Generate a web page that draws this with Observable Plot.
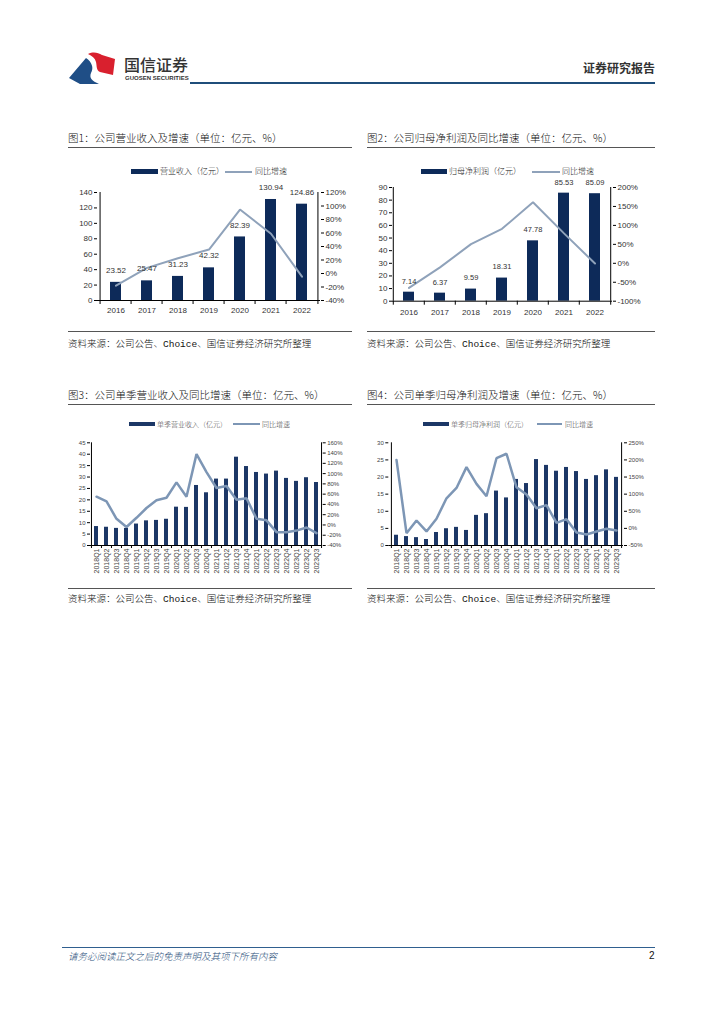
<!DOCTYPE html>
<html><head><meta charset="utf-8">
<script src="https://cdn.jsdelivr.net/npm/d3@7"></script>
<script src="https://cdn.jsdelivr.net/npm/@observablehq/plot@0.6"></script>
<style>
body{margin:0;background:#fff;}
#page{position:relative;width:724px;height:1024px;background:#fff;font-family:"Liberation Sans","Noto Sans CJK SC",sans-serif;color:#222;overflow:hidden;}
.a{position:absolute;white-space:nowrap;}
.title{font-size:10.5px;line-height:14px;color:#111;font-weight:300;font-family:"Noto Sans CJK SC","Liberation Sans",sans-serif;}
.src{font-size:9.5px;line-height:12px;color:#111;font-weight:300;font-family:"Noto Sans CJK SC",sans-serif;}
.mono{font-family:"Liberation Mono",monospace;font-weight:400;}
.rule{height:1px;background:#555;}
.lg{font-size:8px;line-height:10px;font-weight:300;font-family:"Noto Sans CJK SC",sans-serif;color:#222;}
.lg2{font-size:7px;line-height:9px;font-weight:300;font-family:"Noto Sans CJK SC",sans-serif;color:#444;}
.chart{position:absolute;}
</style></head>
<body>
<div id="page">
  <svg class="a" style="left:68px;top:50px" width="50" height="36" viewBox="0 0 50 36">
    <path d="M1,28 L18,8 C24,12 26,18 23,23 C21,28 24,31 31,34 L12,34 Z" fill="#1f4e86"/>
    <path d="M20,4 C26,1 30,3 34,5 L47,9 L45,25 L32,22 C28,20 29,16 28,12 C27,8 24,6 20,4 Z" fill="#d9202e"/>
  </svg>
  <div class="a" style="left:124px;top:54px;font-size:16px;line-height:20px;font-family:'Noto Sans CJK SC';font-weight:500;color:#333">国信证券</div>
  <div class="a" style="left:125px;top:75px;font-size:6px;line-height:7px;font-weight:bold;color:#333">GUOSEN SECURITIES</div>
  <div class="a" style="right:69px;top:60px;font-size:12px;line-height:16px;font-family:'Noto Sans CJK SC';font-weight:bold;color:#333">证券研究报告</div>
  <div class="a" style="left:190px;top:82px;width:465px;height:2px;background:#1f4e7a"></div>

  <!-- chart 1 -->
  <div class="a title" style="left:68px;top:131px">图1：公司营业收入及增速（单位：亿元、%）</div>
  <div class="a rule" style="left:68px;top:147px;width:284px"></div>
  <div class="a" style="left:131px;top:169px;width:27px;height:5px;background:#0d2a59"></div>
  <div class="a lg" style="left:160px;top:166px">营业收入（亿元）</div>
  <div class="a" style="left:225px;top:170.5px;width:27px;height:2px;background:#8fa2ba"></div>
  <div class="a lg" style="left:255px;top:166px">同比增速</div>
  <div id="c1" class="chart" style="left:60px;top:182px"></div>
  <div class="a rule" style="left:68px;top:331px;width:284px"></div>
  <div class="a src" style="left:68px;top:337px">资料来源：公司公告、<span class="mono">Choice</span>、国信证券经济研究所整理</div>

  <!-- chart 2 -->
  <div class="a title" style="left:367px;top:131px">图2：公司归母净利润及同比增速（单位：亿元、%）</div>
  <div class="a rule" style="left:367px;top:147px;width:288px"></div>
  <div class="a" style="left:421px;top:169px;width:26px;height:5px;background:#0d2a59"></div>
  <div class="a lg" style="left:449px;top:166px">归母净利润（亿元）</div>
  <div class="a" style="left:532px;top:170.5px;width:28px;height:2px;background:#8fa2ba"></div>
  <div class="a lg" style="left:562px;top:166px">同比增速</div>
  <div id="c2" class="chart" style="left:360px;top:180px"></div>
  <div class="a rule" style="left:367px;top:331px;width:288px"></div>
  <div class="a src" style="left:367px;top:337px">资料来源：公司公告、<span class="mono">Choice</span>、国信证券经济研究所整理</div>

  <!-- chart 3 -->
  <div class="a title" style="left:68px;top:388px">图3：公司单季营业收入及同比增速（单位：亿元、%）</div>
  <div class="a rule" style="left:68px;top:404px;width:284px"></div>
  <div class="a" style="left:129px;top:422px;width:26px;height:4px;background:#1c3766"></div>
  <div class="a lg2" style="left:157px;top:419.5px">单季营业收入（亿元）</div>
  <div class="a" style="left:233px;top:423px;width:27px;height:2px;background:#7d96b5"></div>
  <div class="a lg2" style="left:262px;top:419.5px">同比增速</div>
  <div id="c3" class="chart" style="left:60px;top:436px"></div>
  <div class="a rule" style="left:68px;top:588px;width:284px"></div>
  <div class="a src" style="left:68px;top:592px">资料来源：公司公告、<span class="mono">Choice</span>、国信证券经济研究所整理</div>

  <!-- chart 4 -->
  <div class="a title" style="left:367px;top:388px">图4：公司单季归母净利润及增速（单位：亿元、%）</div>
  <div class="a rule" style="left:367px;top:404px;width:288px"></div>
  <div class="a" style="left:423px;top:422px;width:26px;height:4px;background:#1c3766"></div>
  <div class="a lg2" style="left:451px;top:419.5px">单季归母净利润（亿元）</div>
  <div class="a" style="left:537px;top:423px;width:25px;height:2px;background:#7d96b5"></div>
  <div class="a lg2" style="left:565px;top:419.5px">同比增速</div>
  <div id="c4" class="chart" style="left:360px;top:436px"></div>
  <div class="a rule" style="left:367px;top:588px;width:288px"></div>
  <div class="a src" style="left:367px;top:592px">资料来源：公司公告、<span class="mono">Choice</span>、国信证券经济研究所整理</div>

  <!-- footer -->
  <div class="a" style="left:62px;top:947px;width:593px;height:1px;background:#2f5f8f"></div>
  <div class="a" style="left:68px;top:950px;font-size:9.5px;line-height:12px;font-style:italic;font-weight:300;color:#1f4e79;font-family:'Noto Sans CJK SC'">请务必阅读正文之后的免责声明及其项下所有内容</div>
  <div class="a" style="left:649px;top:950px;font-size:10px;line-height:12px;color:#111">2</div>
</div>
<script>
const years = ["2016","2017","2018","2019","2020","2021","2022"];
const revenue = [23.52,25.47,31.23,42.32,82.39,130.94,124.86];
const revenueYoY = [-18,8.3,22.6,35.5,94.7,58.9,-4.6];
const netProfit = [7.14,6.37,9.59,18.31,47.78,85.53,85.09];
const netProfitYoY = [-65,-10.8,50.5,90.9,161,79,-0.5];

const quarters = ["2018Q1","2018Q2","2018Q3","2018Q4","2019Q1","2019Q2","2019Q3","2019Q4",
  "2020Q1","2020Q2","2020Q3","2020Q4","2021Q1","2021Q2","2021Q3","2021Q4",
  "2022Q1","2022Q2","2022Q3","2022Q4","2023Q1","2023Q2","2023Q3"];
const qRevenue = [8.3,8.0,7.5,7.5,9.4,10.8,11.0,11.5,16.8,16.7,26.3,23.1,29.1,29.1,38.7,34.6,32.0,31.3,32.6,29.4,28.1,29.7,27.6];
const qRevenueYoY = [55,46,12,-4,14,33,48,53,83,55,138,103,72,76,49,52,12,9,-14,-14,-11,-5,-16];
const qProfit = [3.0,2.6,2.3,1.75,3.8,4.9,5.3,4.4,8.8,9.3,15.9,13.9,19.3,18.1,25.1,23.4,21.7,22.8,21.6,19.3,20.4,22.1,19.9];
const qProfitYoY = [200,-14,23,-9,28,88,118,179,130,94,205,218,120,99,59,68,16,27,-12,-18,-9,-1,-6];

const leftTicks1 = [0,20,40,60,80,100,120,140];
const rightTicks1 = [-40,-20,0,20,40,60,80,100,120];
const leftTicks2 = [0,10,20,30,40,50,60,70,80,90];
const rightTicks2 = [-100,-50,0,50,100,150,200];
const leftTicks3 = [0,5,10,15,20,25,30,35,40,45];
const rightTicks3 = [-40,-20,0,20,40,60,80,100,120,140,160];
const leftTicks4 = [0,5,10,15,20,25,30];
const rightTicks4 = [-50,0,50,100,150,200,250];

function combo(o) {
  const [l0, l1] = o.leftDomain, [r0, r1] = o.rightDomain;
  const toL = p => l0 + (p - r0) * (l1 - l0) / (r1 - r0);
  const fromL = v => r0 + (v - l0) * (r1 - r0) / (l1 - l0);
  const data = o.cats.map((c, i) => ({c, v: o.bars[i], p: o.yoy[i]}));
  const n = o.cats.length;
  const step = (o.width - o.ml - o.mr) / n;
  const pxPerUnit = (o.height - o.mt - o.mb) / (l1 - l0);
  const tl = o.xTick / pxPerUnit;
  const last = o.cats[n - 1];
  const marks = [
    Plot.barY(data, {x: "c", y: "v", fill: o.barColor}),
    Plot.line(data, {x: "c", y: d => toL(d.p), stroke: o.lineColor, strokeWidth: o.lineWidth, strokeLinejoin: "miter"}),
    Plot.ruleY([l0], {stroke: "#000", strokeWidth: 1}),
    Plot.ruleX([o.cats[0]], {x: d => d, dx: -step / 2, stroke: "#000"}),
    Plot.ruleX([last], {x: d => d, dx: step / 2, stroke: "#000"}),
    Plot.ruleX(o.cats, {x: d => d, dx: -step / 2, y1: l0, y2: l0 - tl, stroke: "#000"}),
    Plot.ruleX([last], {x: d => d, dx: step / 2, y1: l0, y2: l0 - tl, stroke: "#000"}),
    Plot.axisY(o.leftTicks, {anchor: "left", tickSize: 3, tickPadding: 2, label: null, fontSize: o.yFont, fill: o.textFill}),
    Plot.axisY(o.rightTicks.map(toL), {anchor: "right", tickSize: 3, tickPadding: 2, label: null, fontSize: o.yFont, fill: o.textFill,
      tickFormat: v => Math.round(fromL(v)) + "%"}),
    Plot.axisX({tickSize: 0, tickPadding: o.xPad, tickRotate: o.rotate || 0, label: null, fontSize: o.xFont, fill: o.textFill})
  ];
  if (o.labels) marks.push(Plot.text(data, {x: "c", y: "v", text: d => d.v.toFixed(2), dy: o.labelDy, fontSize: o.labelFont, fill: o.textFill}));
  const chart = Plot.plot({
    width: o.width, height: o.height,
    marginLeft: o.ml, marginRight: o.mr, marginTop: o.mt, marginBottom: o.mb,
    x: {type: "band", domain: o.cats, paddingInner: o.pad, paddingOuter: o.pad / 2},
    y: {domain: o.leftDomain},
    style: {fontFamily: "Liberation Sans, Arial, sans-serif", fontSize: o.yFont + "px", background: "transparent", overflow: "visible", color: "#000"},
    marks
  });
  document.getElementById(o.id).appendChild(chart);
}

combo({id: "c1", cats: years, bars: revenue, yoy: revenueYoY, leftDomain: [0, 140], rightDomain: [-40, 120],
  leftTicks: leftTicks1, rightTicks: rightTicks1, width: 300, height: 140, ml: 37, mr: 40, mt: 10, mb: 22,
  barColor: "#0d2a59", lineColor: "#8fa2ba", lineWidth: 2, pad: 0.655, yFont: 8, xFont: 8, xPad: 7, xTick: 4,
  labels: true, labelDy: -12, labelFont: 8, textFill: "#333"});
combo({id: "c2", cats: years, bars: netProfit, yoy: netProfitYoY, leftDomain: [0, 90], rightDomain: [-100, 200],
  leftTicks: leftTicks2, rightTicks: rightTicks2, width: 300, height: 142, ml: 32, mr: 48, mt: 7, mb: 21.3,
  barColor: "#0d2a59", lineColor: "#8fa2ba", lineWidth: 2, pad: 0.64, yFont: 8, xFont: 8, xPad: 8, xTick: 4,
  labels: true, labelDy: -11, labelFont: 7.5, textFill: "#333"});
combo({id: "c3", cats: quarters, bars: qRevenue, yoy: qRevenueYoY, leftDomain: [0, 45], rightDomain: [-40, 160],
  leftTicks: leftTicks3, rightTicks: rightTicks3, width: 300, height: 146, ml: 30, mr: 38.3, mt: 6.3, mb: 37,
  barColor: "#1c3766", lineColor: "#7d96b5", lineWidth: 2.5, pad: 0.62, yFont: 6, xFont: 7, xPad: 3, xTick: 3,
  rotate: -90, labels: false, textFill: "#444"});
combo({id: "c4", cats: quarters, bars: qProfit, yoy: qProfitYoY, leftDomain: [0, 30], rightDomain: [-50, 250],
  leftTicks: leftTicks4, rightTicks: rightTicks4, width: 300, height: 146, ml: 28.3, mr: 37, mt: 6.3, mb: 37,
  barColor: "#1c3766", lineColor: "#7d96b5", lineWidth: 2.5, pad: 0.64, yFont: 6, xFont: 7, xPad: 3, xTick: 3,
  rotate: -90, labels: false, textFill: "#444"});
</script>
</body></html>
